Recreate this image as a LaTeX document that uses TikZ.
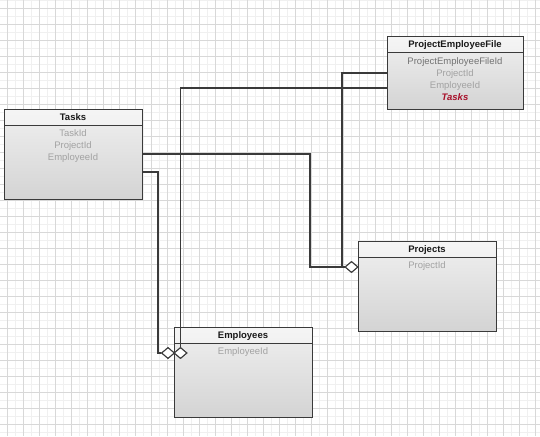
\documentclass[tikz,border=0pt]{standalone}
\usepackage{fontspec}
\setmainfont{Liberation Sans}
\usetikzlibrary{shapes.geometric}

\definecolor{gridmajor}{HTML}{D8D8D8}
\definecolor{gridminor}{HTML}{F0F0F0}
\definecolor{edgegray}{HTML}{3A3A3A}
\definecolor{fieldgray}{HTML}{A2A2A2}
\definecolor{keygray}{HTML}{727272}
\definecolor{navred}{HTML}{A8102A}

\begin{document}
\begin{tikzpicture}[x=1pt, y=-1pt,
    classbox/.style={draw=edgegray, line width=1pt, top color=white!94!black,
      bottom color=white!83!black, minimum width=138pt, minimum height=90pt, inner sep=0pt,
      path picture={
        \shade[top color=white!96!black, bottom color=white!88!black]
          (path picture bounding box.north west) rectangle ([yshift=-16pt]path picture bounding box.north east);
        \draw[edgegray, line width=1pt]
          ([yshift=-16pt]path picture bounding box.north west) -- ([yshift=-16pt]path picture bounding box.north east);
      }},
    classtitle/.style={font=\fontsize{9.5}{11}\selectfont\bfseries, text=black!90, inner sep=0pt, text height=7pt, text depth=2pt},
    field/.style={font=\fontsize{9.5}{11}\selectfont, text=fieldgray, inner sep=0pt, text height=7pt, text depth=2pt},
    conn/.style={draw=edgegray, line width=1.1pt},
    aggr/.style={shape=diamond, draw=edgegray, fill=white, line width=1pt, minimum width=13pt, minimum height=11pt, inner sep=0pt}]

    % Background and grid
    \useasboundingbox (0,0) rectangle (540,436);
    \fill[white] (0,0) rectangle (540,436);
    \foreach \gx in {-1,15,...,540} \draw[gridminor, line width=0.8pt] (\gx,0) -- (\gx,436);
    \foreach \gy in {0,16,...,436} \draw[gridminor, line width=0.8pt] (0,\gy) -- (540,\gy);
    \foreach \gx in {7,23,...,540} \draw[gridmajor, line width=0.9pt] (\gx,0) -- (\gx,436);
    \foreach \gy in {8,24,...,436} \draw[gridmajor, line width=0.9pt] (0,\gy) -- (540,\gy);

    % Classes
    \node[classbox] (tasks) at (73,154) {};
    \node[classbox, minimum width=136pt, minimum height=72pt] (pef) at (455,73) {};
    \node[classbox] (projects) at (427,286) {};
    \node[classbox] (employees) at (243,372) {};

    % Tasks
    \node[classtitle, yshift=-9pt] (tasks-title) at (tasks.north) {Tasks};
    \node[field, yshift=-25pt] (tasks-f1) at (tasks.north) {TaskId};
    \node[field, yshift=-37pt] (tasks-f2) at (tasks.north) {ProjectId};
    \node[field, yshift=-49pt] (tasks-f3) at (tasks.north) {EmployeeId};

    % ProjectEmployeeFile
    \node[classtitle, yshift=-9pt] (pef-title) at (pef.north) {ProjectEmployeeFile};
    \node[field, text=keygray, yshift=-25pt] (pef-f1) at (pef.north) {ProjectEmployeeFileId};
    \node[field, yshift=-37pt] (pef-f2) at (pef.north) {ProjectId};
    \node[field, yshift=-49pt] (pef-f3) at (pef.north) {EmployeeId};
    \node[field, text=navred, font=\fontsize{9.5}{11}\selectfont\bfseries\itshape, yshift=-61pt] (pef-f4) at (pef.north) {Tasks};

    % Projects
    \node[classtitle, yshift=-9pt] (projects-title) at (projects.north) {Projects};
    \node[field, yshift=-25pt] (projects-f1) at (projects.north) {ProjectId};

    % Employees
    \node[classtitle, yshift=-9pt] (employees-title) at (employees.north) {Employees};
    \node[field, yshift=-25pt] (employees-f1) at (employees.north) {EmployeeId};

    % Connectors
    \coordinate (bendA) at (310,267);
    \coordinate (joinB) at (342,267);
    \coordinate (bendC) at (158,353);
    \node[aggr] (projdia) at (351.5,267) {};
    \node[aggr] (empdiaL) at (168,353) {};
    \node[aggr] (empdiaR) at (180.5,353) {};
    \draw[conn] (tasks.east) -| (bendA) -- (projdia.west);
    \draw[conn] (pef.west) -| (joinB);
    \draw[conn] ([yshift=-18pt]tasks.east) -| (bendC) -- (empdiaL.west);
    \draw[conn] ([yshift=-15pt]pef.west) -| (empdiaR.north);

    % Aggregation diamonds on top
    \node[aggr] at (projdia) {};
    \node[aggr] at (empdiaL) {};
    \node[aggr] at (empdiaR) {};
\end{tikzpicture}
\end{document}
